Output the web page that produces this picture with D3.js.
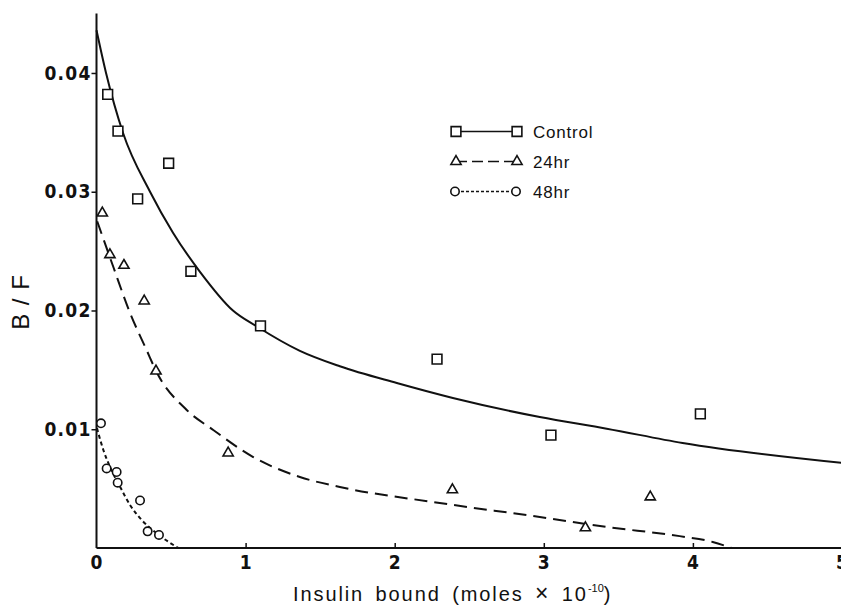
<!DOCTYPE html>
<html>
<head>
<meta charset="utf-8">
<script src="https://cdn.jsdelivr.net/npm/d3@7"></script>
<style>
  html, body { margin: 0; padding: 0; background: #fff; }
  svg { display: block; }
</style>
</head>
<body>
<svg id="chart" width="841" height="608"></svg>
<script>
// ---- Data ----
const xTicks = [0, 1, 2, 3, 4, 5];
const yTicks = [0.01, 0.02, 0.03, 0.04];
const yTickLabels = ["0.01", "0.02", "0.03", "0.04"];

const controlX = [0.075, 0.144, 0.276, 0.484, 0.633, 1.10, 2.284, 3.048, 4.05];
const controlY = [0.0382, 0.0351, 0.0294, 0.0324, 0.0233, 0.0187, 0.0159, 0.0095, 0.0113];

const hr24X = [0.039, 0.090, 0.184, 0.320, 0.399, 0.883, 2.387, 3.279, 3.714];
const hr24Y = [0.0282, 0.0247, 0.0238, 0.0208, 0.0149, 0.0080, 0.0049, 0.0017, 0.0043];

const hr48X = [0.030, 0.068, 0.135, 0.142, 0.292, 0.343, 0.419];
const hr48Y = [0.0105, 0.0067, 0.0064, 0.0055, 0.0040, 0.0014, 0.0011];

// fitted curves as drawn in the reference
const controlCurveX = [0, 0.064, 0.178, 0.359, 0.513, 0.694, 0.915, 1.076, 1.364, 1.632, 2.014, 2.39, 2.973, 3.422, 3.931, 5.0];
const controlCurveY = [0.0436, 0.0400, 0.03495, 0.0300, 0.02655, 0.02326, 0.0200, 0.01865, 0.01660, 0.01530, 0.01389, 0.01263, 0.01103, 0.01005, 0.00884, 0.00716];

const hr24CurveX = [0.005, 0.113, 0.225, 0.336, 0.403, 0.605, 0.783, 1.051, 1.364, 1.632, 2.302, 2.973, 3.422, 3.911, 4.133, 4.26];
const hr24CurveY = [0.0275, 0.02366, 0.01979, 0.01667, 0.01482, 0.01162, 0.00994, 0.00766, 0.00598, 0.00514, 0.00379, 0.00261, 0.00177, 0.0010, 0.00051, 0.0];

const hr48CurveX = [0.003, 0.046, 0.09, 0.158, 0.225, 0.303, 0.403, 0.548];
const hr48CurveY = [0.0101, 0.00825, 0.00685, 0.00516, 0.00362, 0.00236, 0.00124, 0.0];

const legendLabels = ["Control", "24hr", "48hr"];

// ---- Drawing ----
const svg = d3.select("#chart");
const ink = "#111";
const x = d3.scaleLinear().domain([0, 5]).range([96.5, 842]);
const y = d3.scaleLinear().domain([0, 0.045]).range([548, 13.6]);

const tickFont = "'Liberation Sans Narrow', 'DejaVu Sans Condensed', 'Arial Narrow', sans-serif";

// axes lines
svg.append("line").attr("x1", x(0)).attr("x2", 841).attr("y1", y(0)).attr("y2", y(0))
  .attr("stroke", ink).attr("stroke-width", 2);
svg.append("line").attr("x1", x(0)).attr("x2", x(0)).attr("y1", y(0)).attr("y2", y(0.045))
  .attr("stroke", ink).attr("stroke-width", 2);

// x axis ticks (inward)
const xAxis = d3.axisTop(x).tickValues(xTicks.slice(1)).tickSize(5).tickFormat("");
const gx = svg.append("g").attr("transform", `translate(0,${y(0)})`).call(xAxis);
gx.select(".domain").remove();
gx.selectAll("line").attr("stroke", ink).attr("stroke-width", 1.5);

svg.append("g").selectAll("text").data(xTicks).join("text")
  .attr("x", d => x(d)).attr("y", 569)
  .attr("text-anchor", "middle")
  .attr("font-family", tickFont).attr("font-weight", "bold").attr("font-size", 19)
  .attr("fill", ink)
  .text(d => d);

// y axis ticks (outward)
const yAxis = d3.axisLeft(y).tickValues(yTicks).tickSize(5).tickFormat((d, i) => yTickLabels[i]);
const gy = svg.append("g").attr("transform", `translate(${x(0)},0)`).call(yAxis);
gy.select(".domain").remove();
gy.selectAll("line").attr("stroke", ink).attr("stroke-width", 1.5);
gy.selectAll("text")
  .attr("x", -5)
  .attr("font-family", tickFont).attr("font-weight", "bold").attr("font-size", 19)
  .attr("letter-spacing", 1.2)
  .attr("fill", ink);

// axis titles
svg.append("text")
  .attr("transform", `translate(29,302) rotate(-90)`)
  .attr("text-anchor", "middle")
  .attr("font-family", "'Liberation Sans', Arial, sans-serif")
  .attr("font-size", 24).attr("letter-spacing", 1).attr("fill", ink)
  .text("B / F");

const xt = svg.append("text")
  .attr("x", 293).attr("y", 601)
  .attr("font-family", "'Liberation Sans', Arial, sans-serif")
  .attr("font-size", 20).attr("letter-spacing", 1.9).attr("word-spacing", 4).attr("fill", ink);
xt.append("tspan").text("Insulin bound (moles ");
xt.append("tspan").attr("font-size", 23).text("\u00D7");
xt.append("tspan").text(" 10");
xt.append("tspan").attr("font-size", 11).attr("dy", -9).attr("letter-spacing", 0).text("-10");
xt.append("tspan").attr("dy", 9).text(")");

// curves
const line = d3.line().x(d => x(d[0])).y(d => y(d[1])).curve(d3.curveMonotoneX);
svg.append("path").datum(d3.zip(controlCurveX, controlCurveY)).attr("d", line)
  .attr("fill", "none").attr("stroke", ink).attr("stroke-width", 2);
svg.append("path").datum(d3.zip(hr24CurveX, hr24CurveY)).attr("d", line)
  .attr("fill", "none").attr("stroke", ink).attr("stroke-width", 2).attr("stroke-dasharray", "13,7");
svg.append("path").datum(d3.zip(hr48CurveX, hr48CurveY)).attr("d", line)
  .attr("fill", "none").attr("stroke", ink).attr("stroke-width", 2).attr("stroke-dasharray", "4,3");

// markers
const sq = d3.symbol().type(d3.symbolSquare).size(95);
const tri = d3.symbol().type(d3.symbolTriangle).size(45);
function drawSquare(g, cx, cy) {
  g.append("path").attr("d", sq()).attr("transform", `translate(${cx},${cy})`)
    .attr("fill", "#fff").attr("stroke", ink).attr("stroke-width", 1.6);
}
function drawTri(g, cx, cy) {
  g.append("path").attr("d", tri()).attr("transform", `translate(${cx},${cy})`)
    .attr("fill", "#fff").attr("stroke", ink).attr("stroke-width", 1.6);
}
function drawCirc(g, cx, cy) {
  g.append("circle").attr("cx", cx).attr("cy", cy).attr("r", 4.2)
    .attr("fill", "#fff").attr("stroke", ink).attr("stroke-width", 1.6);
}
const pts = svg.append("g");
controlX.forEach((v, i) => drawSquare(pts, x(v), y(controlY[i])));
hr24X.forEach((v, i) => drawTri(pts, x(v), y(hr24Y[i])));
hr48X.forEach((v, i) => drawCirc(pts, x(v), y(hr48Y[i])));

// legend
const lg = svg.append("g");
const legY = [131.5, 161.5, 191.5];
const legDash = [null, "11,5", "3,2"];
const legX1 = 456, legX2 = 517;
legendLabels.forEach((lab, i) => {
  lg.append("line").attr("x1", legX1).attr("x2", legX2).attr("y1", legY[i]).attr("y2", legY[i])
    .attr("stroke", ink).attr("stroke-width", 1.5).attr("stroke-dasharray", legDash[i]);
  if (i === 0) { drawSquare(lg, legX1, legY[i]); drawSquare(lg, legX2, legY[i]); }
  if (i === 1) { drawTri(lg, legX1, legY[i]); drawTri(lg, legX2, legY[i]); }
  if (i === 2) { drawCirc(lg, legX1 - 1, legY[i]); drawCirc(lg, legX2 - 1, legY[i]); }
  lg.append("text").attr("x", 533).attr("y", legY[i] + 6)
    .attr("font-family", "'Liberation Sans', Arial, sans-serif")
    .attr("font-size", 17).attr("letter-spacing", 0.8).attr("fill", ink)
    .text(lab);
});
</script>
</body>
</html>
